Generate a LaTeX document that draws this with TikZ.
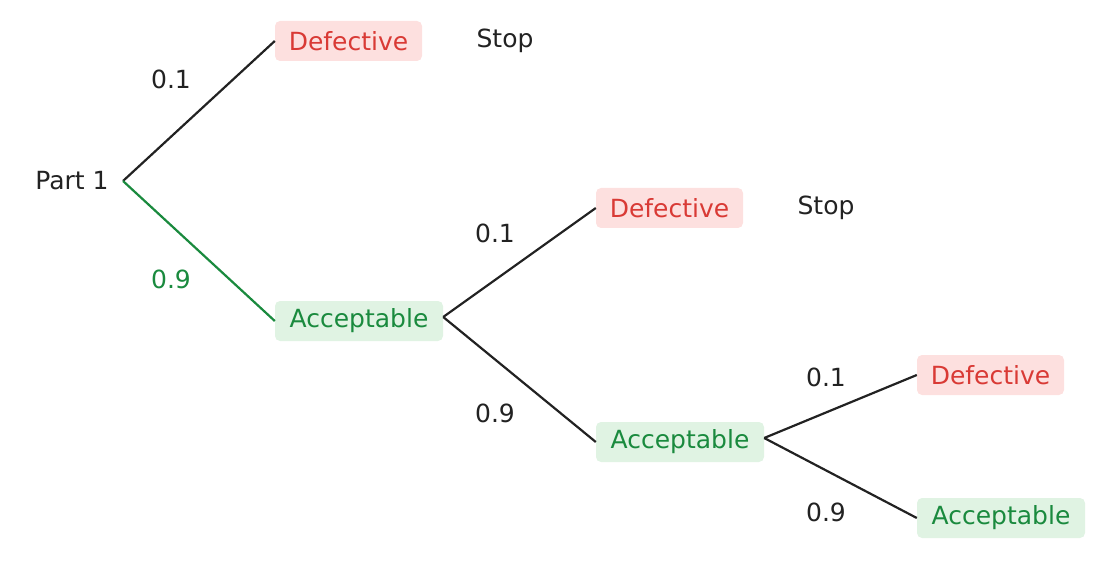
\documentclass[tikz,border=0pt]{standalone}
\usepackage{fontspec}
\setmainfont{DejaVu Sans}
\definecolor{dk}{HTML}{222222}
\definecolor{rt}{HTML}{D93A35}
\definecolor{rf}{HTML}{FDE0DF}
\definecolor{gt}{HTML}{1A8A3E}
\definecolor{gf}{HTML}{E0F3E3}
\begin{document}
\begin{tikzpicture}[x=1pt,y=-1pt,
  every node/.style={font=\fontsize{25}{30}\selectfont,text=dk,inner sep=0pt},
  box/.style={rounded corners=5pt,minimum height=40pt},
  bad/.style={box,fill=rf,text=rt,minimum width=147pt},
  good/.style={box,fill=gf,text=gt,minimum width=168pt},
  ln/.style={draw=dk,line width=2.2pt},
  gln/.style={draw=gt,line width=2.2pt}]
\useasboundingbox (0,0) rectangle (1108,561);
\node (p) at (72,181) {Part 1};
\coordinate (p0) at (123,181);
\node[bad] (d1) at (348.5,41) {Defective};
\node (s1) at (505,41) {Stop};
\node[good] (a1) at (359,321) {Acceptable};
\node[bad] (d2) at (669.5,208) {Defective};
\node (s2) at (826,208) {Stop};
\node[good] (a2) at (680,442) {Acceptable};
\node[bad] (d3) at (990.5,375) {Defective};
\node[good] (a3) at (1001,518) {Acceptable};
\draw[ln] (p0) -- (d1.west);
\draw[gln] (p0) -- (a1.west);
\draw[ln] ([yshift=4pt]a1.east) -- (d2.west);
\draw[ln] ([yshift=4pt]a1.east) -- (a2.west);
\draw[ln] ([yshift=4pt]a2.east) -- (d3.west);
\draw[ln] ([yshift=4pt]a2.east) -- (a3.west);
\node (l1) at (171,79) {0.1};
\node[text=gt] (l2) at (171,279) {0.9};
\node (l3) at (495,233) {0.1};
\node (l4) at (495,413) {0.9};
\node (l5) at (826,377) {0.1};
\node (l6) at (826,512) {0.9};
\end{tikzpicture}
\end{document}
